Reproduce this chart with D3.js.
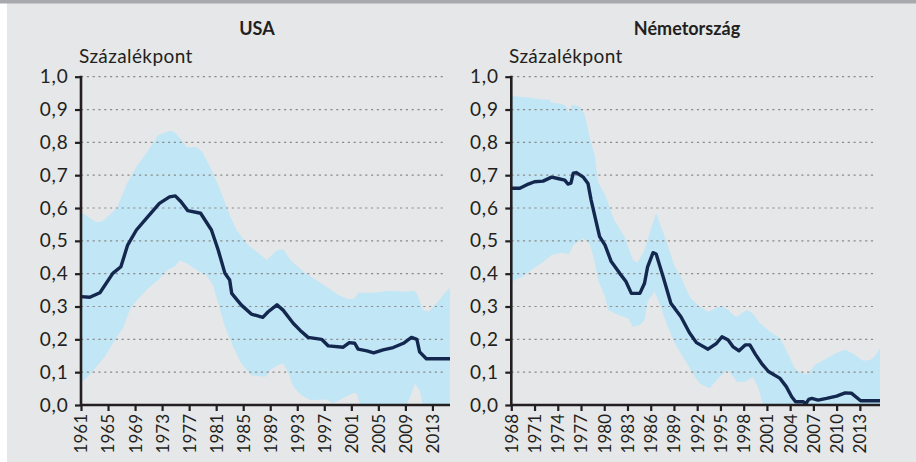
<!DOCTYPE html>
<html><head><meta charset="utf-8">
<script src="https://cdn.jsdelivr.net/npm/d3@7"></script>
<style>html,body{margin:0;padding:0;background:#fff}svg{display:block}</style>
</head><body>
<svg id="c" width="916" height="462"></svg>
<script>
// ---------- DATA ----------
const panelTitles = ["USA", "Németország"];
const unitLabel = "Százalékpont";
const yTicks = [0,0.1,0.2,0.3,0.4,0.5,0.6,0.7,0.8,0.9,1.0];
const usaTickYears = [1961,1965,1969,1973,1977,1981,1985,1989,1993,1997,2001,2005,2009,2013];
const deTickYears = [1968,1971,1974,1977,1980,1983,1986,1989,1992,1995,1998,2001,2004,2007,2010,2013];

const usaLineYears = [1961.0,1962.3,1963.8,1965.7,1966.9,1967.9,1969.2,1970.9,1972.6,1974.1,1974.95,1975.8,1976.8,1978.7,1980.3,1981.3,1982.3,1983.0,1983.3,1984.7,1986.2,1987.9,1988.7,1990.0,1990.9,1992.4,1993.4,1994.6,1996.6,1997.6,1999.8,2000.7,2001.5,2002.0,2003.3,2004.3,2005.7,2007.2,2008.7,2009.9,2010.7,2011.1,2012.1,2015.6];
const usaLine = [0.330,0.328,0.342,0.401,0.421,0.487,0.533,0.574,0.614,0.634,0.637,0.619,0.592,0.584,0.533,0.472,0.401,0.381,0.340,0.305,0.277,0.267,0.284,0.305,0.289,0.249,0.228,0.206,0.200,0.180,0.176,0.190,0.188,0.170,0.165,0.159,0.168,0.175,0.188,0.206,0.200,0.162,0.141,0.141];

const usaUpperYears = [1961.0,1963.1,1964.1,1966.3,1967.8,1969.2,1971.0,1972.4,1974.2,1974.9,1975.9,1976.6,1978.1,1978.9,1980.1,1981.6,1983.0,1984.0,1985.7,1987.2,1988.5,1989.9,1990.9,1992.0,1993.9,1995.9,1997.3,1999.1,2000.6,2001.5,2002.0,2004.2,2006.7,2009.2,2010.4,2010.8,2011.6,2012.4,2013.6,2014.6,2015.6];
const usaUpper = [0.589,0.558,0.558,0.599,0.675,0.726,0.777,0.822,0.835,0.830,0.807,0.785,0.785,0.772,0.726,0.655,0.579,0.533,0.487,0.464,0.442,0.470,0.475,0.442,0.406,0.379,0.360,0.335,0.322,0.325,0.342,0.342,0.348,0.345,0.348,0.335,0.289,0.284,0.310,0.335,0.358];

const usaLowerYears = [1961.0,1962.5,1964.5,1966.0,1967.2,1968.2,1969.4,1970.9,1972.4,1973.9,1974.9,1975.6,1976.8,1978.1,1979.5,1980.5,1981.3,1982.3,1983.5,1984.7,1986.2,1988.3,1989.0,1990.2,1990.9,1991.7,1992.4,1993.6,1994.9,1997.3,1998.3,2000.2,2001.2,2001.8,2002.3,2009.2,2009.9,2010.4,2011.1,2011.6,2015.6];
const usaLower = [0.066,0.097,0.147,0.198,0.234,0.289,0.322,0.355,0.381,0.413,0.423,0.440,0.430,0.411,0.396,0.366,0.310,0.238,0.178,0.127,0.091,0.086,0.107,0.122,0.127,0.097,0.056,0.030,0.015,0.017,0.005,0.025,0.036,0.036,0.000,0.000,0.036,0.064,0.046,0.000,0.000];

const deLineYears = [1968.0,1969.1,1970.2,1971.0,1972.1,1973.2,1974.0,1974.9,1975.3,1975.7,1976.0,1976.4,1977.3,1977.9,1978.3,1979.0,1979.4,1980.1,1980.9,1982.0,1982.8,1983.5,1984.6,1985.2,1985.6,1986.3,1986.7,1987.6,1988.6,1989.9,1991.0,1991.9,1993.4,1994.5,1995.2,1996.0,1996.6,1997.4,1998.2,1998.8,1999.5,2000.3,2001.2,2002.7,2003.5,2004.2,2004.7,2005.7,2006.0,2006.4,2006.8,2007.6,2008.7,2010.0,2011.1,2011.9,2013.1,2015.6];
const deLine = [0.660,0.660,0.673,0.680,0.682,0.694,0.690,0.685,0.673,0.676,0.706,0.708,0.694,0.675,0.625,0.553,0.513,0.487,0.437,0.401,0.376,0.340,0.340,0.371,0.421,0.464,0.460,0.391,0.310,0.269,0.220,0.190,0.170,0.188,0.208,0.198,0.178,0.165,0.183,0.183,0.155,0.127,0.102,0.081,0.056,0.025,0.010,0.010,0.003,0.017,0.020,0.015,0.020,0.027,0.037,0.036,0.013,0.013];

const deUpperYears = [1968.0,1970.2,1971.7,1973.0,1973.2,1974.5,1975.1,1975.4,1975.8,1976.8,1977.5,1978.1,1978.8,1979.2,1980.1,1981.3,1982.6,1983.7,1984.3,1985.2,1986.1,1986.7,1987.8,1989.1,1989.9,1991.0,1992.1,1993.4,1995.1,1996.0,1997.0,1998.4,1999.2,2000.1,2001.4,2002.7,2003.7,2004.6,2005.3,2006.3,2007.2,2008.7,2010.0,2011.1,2012.1,2013.4,2014.3,2014.9,2015.6];
const deUpper = [0.941,0.937,0.931,0.930,0.921,0.917,0.910,0.888,0.914,0.909,0.883,0.817,0.756,0.680,0.640,0.563,0.513,0.442,0.433,0.472,0.543,0.584,0.513,0.421,0.391,0.330,0.304,0.284,0.302,0.289,0.267,0.289,0.279,0.249,0.223,0.203,0.157,0.112,0.098,0.094,0.122,0.142,0.159,0.168,0.157,0.135,0.137,0.147,0.173];

const deLowerYears = [1968.0,1969.5,1970.8,1971.9,1973.2,1974.5,1975.5,1976.0,1977.3,1978.1,1978.7,1979.2,1980.1,1980.5,1981.8,1983.1,1983.7,1984.6,1985.2,1985.6,1986.5,1987.1,1988.2,1989.1,1990.4,1991.7,1992.4,1993.6,1994.9,1996.0,1997.1,1998.2,1999.2,1999.9,2000.5,2015.6];
const deLower = [0.376,0.391,0.416,0.432,0.457,0.464,0.460,0.487,0.508,0.493,0.442,0.381,0.330,0.289,0.274,0.264,0.238,0.244,0.259,0.315,0.345,0.310,0.238,0.188,0.137,0.086,0.064,0.051,0.086,0.107,0.071,0.071,0.086,0.051,0.000,0.000];

// ---------- DRAW ----------
const FONT = "Lato, 'Open Sans', sans-serif";
const svg = d3.select("#c");
svg.append("rect").attr("x",7).attr("y",0).attr("width",909).attr("height",462).attr("fill","#e6e7e8");
svg.append("rect").attr("x",0).attr("y",0).attr("width",916).attr("height",3.5).attr("fill","#a7a9ac");

const panels = [
  {title: panelTitles[0], titleX: 257, unitX: 79, x0: 81, x1: 450, gridEnd: 445, domain:[1961,2015.6], ticks: usaTickYears,
   lineX: usaLineYears, lineY: usaLine, upX: usaUpperYears, upY: usaUpper, loX: usaLowerYears, loY: usaLower},
  {title: panelTitles[1], titleX: 687, unitX: 509, x0: 511.3, x1: 880, gridEnd: 876, domain:[1968,2015.6], ticks: deTickYears,
   lineX: deLineYears, lineY: deLine, upX: deUpperYears, upY: deUpper, loX: deLowerYears, loY: deLower}
];

const y = d3.scaleLinear().domain([0,1]).range([405,76.7]);

panels.forEach(p => {
  const x = d3.scaleLinear().domain(p.domain).range([p.x0, p.x1]);
  const g = svg.append("g");

  // band polygon
  const upPts = p.upX.map((d,i)=>[d,p.upY[i]]);
  const loPts = p.loX.map((d,i)=>[d,p.loY[i]]).reverse();
  const poly = d3.line().x(d=>x(d[0])).y(d=>y(d[1]));
  g.append("path").attr("d", poly(upPts.concat(loPts)) + "Z").attr("fill","#c1e6f6");

  // gridlines
  g.selectAll("line.grid").data(yTicks.filter(t=>t>0)).join("line")
    .attr("x1",p.x0).attr("x2",p.gridEnd).attr("y1",d=>y(d)).attr("y2",d=>y(d))
    .attr("stroke","#8c8c8c").attr("stroke-width",1.2).attr("stroke-dasharray","2.2,3.6");

  // line
  const ln = d3.line().x((d,i)=>x(p.lineX[i])).y(d=>y(d));
  g.append("path").attr("d", ln(p.lineY)).attr("fill","none").attr("stroke","#14274e")
    .attr("stroke-width",3.4).attr("stroke-linejoin","round");

  // y axis
  const ya = d3.axisLeft(y).tickValues(yTicks).tickSize(6).tickPadding(6)
    .tickFormat(d=>d3.format(".1f")(d).replace(".",","));
  const yg = g.append("g").attr("transform",`translate(${p.x0},0)`).call(ya);
  yg.select(".domain").attr("stroke","#231f20").attr("stroke-width",2.6).attr("d",`M0,${y(1)-1}V${y(0)+1}`);
  yg.selectAll(".tick line").attr("stroke","#231f20").attr("stroke-width",2.2);
  yg.selectAll(".tick text").attr("fill","#231f20").style("font-family",FONT).style("font-size","19px")
    .style("letter-spacing","0.8px").attr("x",-12.5);

  // x axis
  const xa = d3.axisBottom(x).tickValues(p.ticks).tickSize(6).tickFormat(d=>String(d));
  const xg = g.append("g").attr("transform",`translate(0,${y(0)})`).call(xa);
  xg.select(".domain").attr("stroke","#231f20").attr("stroke-width",2.6).attr("d",`M${p.x0},0H${p.x1}`);
  xg.selectAll(".tick line").attr("stroke","#231f20").attr("stroke-width",2.2);
  xg.selectAll(".tick text").attr("fill","#231f20").style("font-family",FONT).style("font-size","17px")
    .attr("transform","rotate(-90)").attr("text-anchor","end").attr("x",-9).attr("y",0).attr("dy","0.35em");

  // titles
  svg.append("text").attr("x",p.titleX).attr("y",35).attr("text-anchor","middle")
    .style("font-family",FONT).style("font-weight","bold").style("font-size","18px").attr("fill","#231f20").text(p.title);
  svg.append("text").attr("x",p.unitX).attr("y",63).style("font-family",FONT).style("font-size","19px")
    .style("letter-spacing","0.4px").attr("fill","#231f20").text(unitLabel);
});
</script>
</body></html>
